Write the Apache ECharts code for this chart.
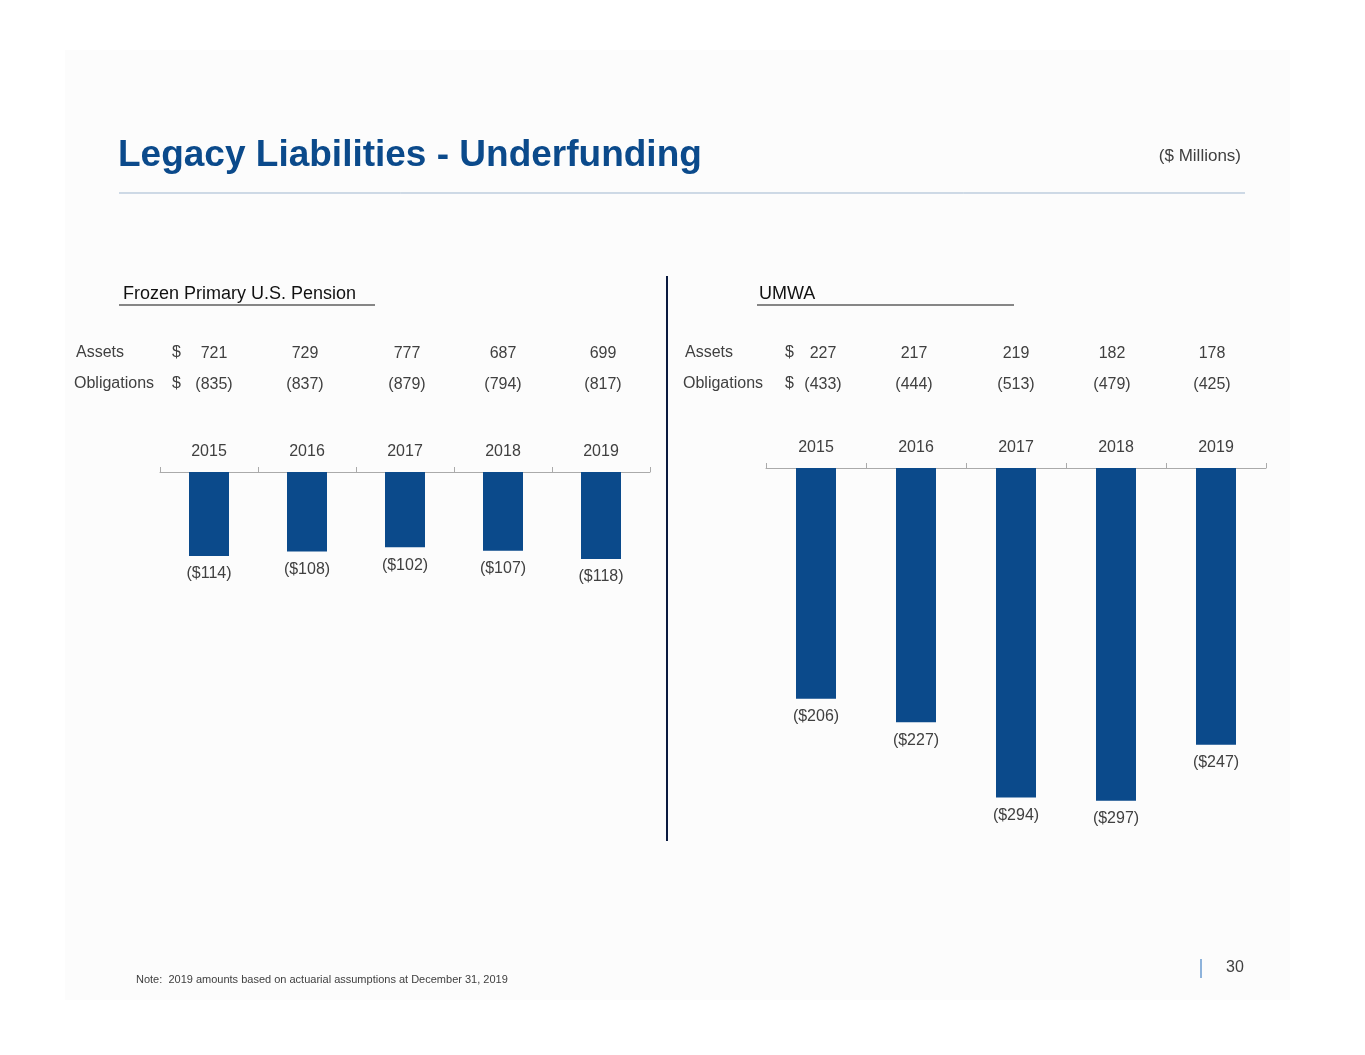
<!DOCTYPE html>
<html>
<head>
<meta charset="utf-8">
<script src="https://cdn.jsdelivr.net/npm/echarts@6/dist/echarts.min.js"></script>
<style>
  html, body { margin: 0; padding: 0; background: #ffffff; }
  #chart { width: 1365px; height: 1055px; }
</style>
</head>
<body>
<div id="chart"></div>
<script>
const years = ['2015', '2016', '2017', '2018', '2019'];
const pensionAssets = [721, 729, 777, 687, 699];
const pensionObligations = [835, 837, 879, 794, 817];
const pensionUnderfunding = [-114, -108, -102, -107, -118];
const umwaAssets = [227, 217, 219, 182, 178];
const umwaObligations = [433, 444, 513, 479, 425];
const umwaUnderfunding = [-206, -227, -294, -297, -247];

const navy = '#0b4a8b';
const grey = '#404040';
const font = 'Arial, "Liberation Sans", sans-serif';

const chart = echarts.init(document.getElementById('chart'));

function money(v) { return '($' + Math.abs(v) + ')'; }

function tableRow(y, label, dollarX, labelX, xs, values, wrap) {
    const out = [
        { type: 'text', left: labelX, top: y - 9, style: { text: label, fill: grey, font: '16px ' + font } },
        { type: 'text', left: dollarX, top: y - 9, style: { text: '$', fill: grey, font: '16px ' + font } }
    ];
    values.forEach((v, i) => {
        out.push({ type: 'text', x: xs[i], y: y, style: { text: wrap ? '(' + v + ')' : String(v), fill: grey, font: '16px ' + font, align: 'center', verticalAlign: 'middle' } });
    });
    return out;
}

const leftXs = [214, 305, 407, 503, 603];
const rightXs = [823, 914, 1016, 1112, 1212];

function xAxisCfg(gridIndex) {
    return {
        type: 'category', gridIndex: gridIndex, data: years, position: 'top',
        axisLine: { lineStyle: { color: '#aaaaaa' } },
        axisTick: { show: true, length: 5, lineStyle: { color: '#aaaaaa' } },
        axisLabel: { color: grey, fontSize: 16, fontFamily: font, margin: 12 }
    };
}

chart.setOption({
    backgroundColor: '#ffffff',
    animation: false,
    graphic: [
        { type: 'rect', shape: { x: 65, y: 50, width: 1225, height: 950 }, style: { fill: '#fcfcfc' }, z: -10 },
        { type: 'text', left: 118, top: 137, style: { text: 'Legacy Liabilities - Underfunding', fill: navy, font: 'bold 37px ' + font } },
        { type: 'text', right: 124, top: 148, style: { text: '($ Millions)', fill: grey, font: '17px ' + font } },
        { type: 'line', shape: { x1: 119, y1: 193, x2: 1245, y2: 193 }, style: { stroke: '#9fb6cf', lineWidth: 1 } },
        { type: 'text', left: 123, top: 285, style: { text: 'Frozen Primary U.S. Pension', fill: '#111', font: '18px ' + font } },
        { type: 'line', shape: { x1: 119, y1: 305, x2: 375, y2: 305 }, style: { stroke: '#111', lineWidth: 1 } },
        { type: 'text', left: 759, top: 285, style: { text: 'UMWA', fill: '#111', font: '18px ' + font } },
        { type: 'line', shape: { x1: 757, y1: 305, x2: 1014, y2: 305 }, style: { stroke: '#111', lineWidth: 1 } },
        { type: 'line', shape: { x1: 667, y1: 276, x2: 667, y2: 841 }, style: { stroke: '#0a1a40', lineWidth: 2 } },
        ...tableRow(354, 'Assets', 172, 76, leftXs, pensionAssets, false),
        ...tableRow(385, 'Obligations', 172, 74, leftXs, pensionObligations, true),
        ...tableRow(354, 'Assets', 785, 685, rightXs, umwaAssets, false),
        ...tableRow(385, 'Obligations', 785, 683, rightXs, umwaObligations, true),
        { type: 'text', left: 136, top: 974, style: { text: 'Note:  2019 amounts based on actuarial assumptions at December 31, 2019', fill: grey, font: '11px ' + font } },
        { type: 'line', shape: { x1: 1201, y1: 959, x2: 1201, y2: 978 }, style: { stroke: '#6a9bd0', lineWidth: 1.5 } },
        { type: 'text', left: 1226, top: 960, style: { text: '30', fill: grey, font: '16px ' + font } }
    ],
    grid: [
        { left: 160, top: 472, width: 490, height: 300 },
        { left: 766, top: 468, width: 500, height: 372 }
    ],
    xAxis: [xAxisCfg(0), xAxisCfg(1)],
    yAxis: [
        { type: 'value', gridIndex: 0, min: -407, max: 0, show: false },
        { type: 'value', gridIndex: 1, min: -332, max: 0, show: false }
    ],
    series: [
        {
            type: 'bar', xAxisIndex: 0, yAxisIndex: 0, data: pensionUnderfunding, barWidth: 40,
            itemStyle: { color: navy },
            label: { show: true, position: 'bottom', distance: 10, formatter: p => money(p.value), color: grey, fontSize: 16, fontFamily: font }
        },
        {
            type: 'bar', xAxisIndex: 1, yAxisIndex: 1, data: umwaUnderfunding, barWidth: 40,
            itemStyle: { color: navy },
            label: { show: true, position: 'bottom', distance: 10, formatter: p => money(p.value), color: grey, fontSize: 16, fontFamily: font }
        }
    ]
});
</script>
</body>
</html>
